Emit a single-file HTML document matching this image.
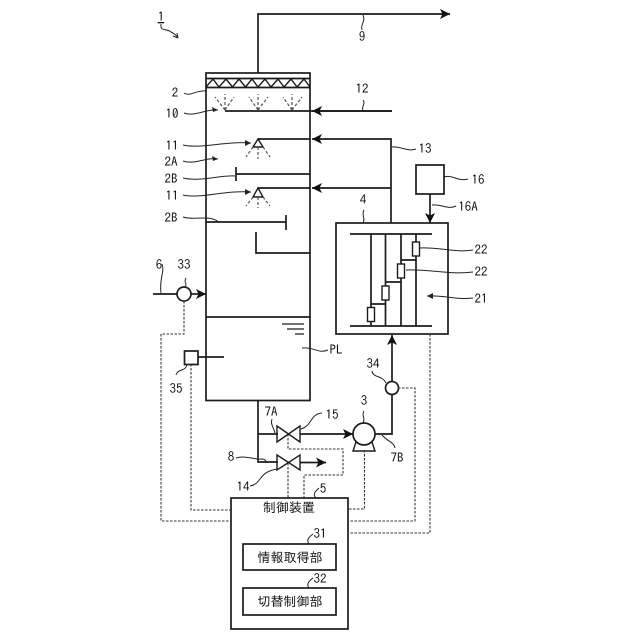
<!DOCTYPE html>
<html><head><meta charset="utf-8"><style>
html,body{margin:0;padding:0;background:#fff}
svg{display:block}
text{font-family:"IPAGothic","Liberation Sans","Noto Sans CJK JP",sans-serif;font-size:13px;fill:#111;text-anchor:middle}
.j{font-size:13px}
</style></head><body>
<svg width="640" height="640" viewBox="0 0 640 640" xmlns="http://www.w3.org/2000/svg">
<defs><marker id="a" markerWidth="11" markerHeight="10" refX="10" refY="5" orient="auto" markerUnits="userSpaceOnUse"><path d="M0 0L10 5L0 10L2.500 5Z" fill="#111"/></marker></defs>
<g fill="none" stroke="#1c1c1c" stroke-width="1.7">
<!-- tower -->
<rect x="206" y="73" width="104" height="327.500"/>
<path d="M206 78.500H310M206 87.500H310M206 317H310"/>
<path stroke-width="1.4" d="M206 87L213 79L219 87L226 79L232.500 87L239 79L245.500 87L252 79L258 87L265 79L271 87L278 79L284 87L291 79L297 87L304 79L310 87"/>
<!-- stack -->
<path d="M258 73V14H450" marker-end="url(#a)"/>
<!-- sprays -->
<path d="M392 111H225"/>
<path d="M392 111H312" marker-end="url(#a)"/>
<path d="M391 223V139H312" marker-end="url(#a)"/>
<path d="M391 188H312" marker-end="url(#a)"/>
<path d="M310 139H258M310 188H258"/>
<path d="M253 147L258 139L263 147ZM253 197L258 188L263 197Z" stroke-width="1.4"/>
<g stroke-dasharray="3 2" stroke-width="1.2" stroke="#555">
<path d="M225 110L215 97M225 110V94M225 110L234 97M258 110L249 97M258 110V94M258 110L268 97M292 110L283 97M292 110V94M292 110L302 97"/>
<path d="M253 147L246 157M258 147V159M263 147L270 157M253 197L246 206M258 197V208M263 197L270 206"/>
</g>
<!-- baffles -->
<path d="M310 174H236M236 167V181M206 222H286M286 215V230M256 232V253H310"/>
<!-- liquid level -->
<path stroke-width="1.3" d="M282 324H304M287 329H304M295 334H304"/>
<!-- inlet -->
<path d="M153 294H177"/>
<path d="M191 294H206" marker-end="url(#a)"/>
<circle cx="184" cy="294" r="7"/>
<!-- sensor 35 -->
<rect x="184.500" y="351" width="13.500" height="13.500"/>
<path d="M198 357H224"/>
<!-- absorber box -->
<rect x="336" y="223" width="112" height="111"/>
<path d="M350 234H432M350 326H432M371 234V326M385.500 234V326M401 234V326M416 234V326M371 304H385.500M385.500 282H401M401 260H416"/>
<g fill="#fff" stroke-width="1.4">
<rect x="367.500" y="307.500" width="7" height="14"/>
<rect x="382" y="286" width="7" height="14"/>
<rect x="397.500" y="264" width="7" height="14"/>
<rect x="412.500" y="242" width="7" height="14"/>
</g>
<rect x="416" y="165" width="28" height="29"/>
<path d="M430 194V223" marker-end="url(#a)"/>
<!-- pipes -->
<path d="M258 400V462H278M258 434H278"/>
<path d="M300 434H353" marker-end="url(#a)"/>
<path d="M300 462.500H326" marker-end="url(#a)"/>
<path d="M277 426L300 442V426L277 442Z" stroke-width="1.4"/>
<path d="M277 455L300 470V455L277 470Z" stroke-width="1.4"/>
<circle cx="364" cy="434" r="11"/>
<path d="M356 442L353 451H375L372 442" stroke-width="1.4"/>
<path d="M375 434H392V395"/>
<circle cx="392" cy="388" r="6.500"/>
<path d="M392 381V335" marker-end="url(#a)"/>
<!-- control -->
<rect x="231" y="498" width="117" height="131"/>
<rect x="243" y="544" width="93" height="26"/>
<rect x="243" y="588" width="93" height="27"/>
</g>
<!-- dashed signals -->
<g fill="none" stroke="#333" stroke-width="1.1" stroke-dasharray="2.500 1.500">
<path d="M184 301V334H161V521H231"/>
<path d="M191 364V510H231"/>
<path d="M288 434V449H343V475H304V498"/>
<path d="M288 463V498"/>
<path d="M364.500 450V509H349"/>
<path d="M398 388H415V521H349"/>
<path d="M430 334V533H349"/>
</g>
<!-- leaders -->
<g fill="none" stroke="#222" stroke-width="1">
<path d="M161 24C160 32 166 28 171 32C175 34 176 35 178 38"/>
<path d="M178 38L173 36M178 38L177 33"/>
<path d="M363 15C366 22 360 24 362 30"/>
<path d="M184 93C190 97 196 90 206 91"/>
<path d="M184 113C195 117 205 109 218 110"/>
<path d="M183 145C200 149 225 141 251 143"/>
<path d="M183 161C195 165 205 157 218 159"/>
<path d="M183 178C200 182 220 175 235 176"/>
<path d="M183 195C200 199 225 190 251 192"/>
<path d="M183 217C195 221 208 214 219 222"/>
<path d="M363 100C366 104 361 106 363 111"/>
<path d="M392 147C400 146 408 152 416 149"/>
<path d="M444 177C452 174 458 182 468 179"/>
<path d="M432 205C442 204 448 210 456 206"/>
<path d="M364 210C361 216 366 218 363 223"/>
<path d="M420 248C440 247 455 253 473 250"/>
<path d="M406 270C430 269 450 275 473 272"/>
<path d="M427 296C445 295 455 300 473 298"/>
<path d="M162 264C165 272 159 278 161 293"/>
<path d="M186 278C183 284 188 282 185 287"/>
<path d="M302 348C315 347 318 354 328 350"/>
<path d="M176 375C178 368 186 372 187 364"/>
<path d="M372 371C373 378 382 375 386 383"/>
<path d="M364 411C361 416 366 418 363 423"/>
<path d="M272 419C270 424 274 428 275 433"/>
<path d="M301 429C312 426 310 414 322 413"/>
<path d="M382 435C388 442 394 442 395 448"/>
<path d="M236 458C245 455 255 460 262 459C266 459 266 462 266 463"/>
<path d="M250 486C262 484 258 472 277 469"/>
<path d="M316 498C312 494 316 491 319 488"/>
<path d="M309 544C306 540 309 537 313 534"/>
<path d="M309 588C306 584 309 581 313 578"/>
</g>
<path d="M218 110L212 107L213 112ZM251 143L245 140L245 146ZM218 159L212 156L213 161ZM251 192L245 189L245 195ZM427 296L433 293L433 299Z" fill="#222"/>
<!-- labels -->
<text x="161" y="21" style="text-decoration:underline">1</text>
<text x="362" y="41">9</text>
<text x="175" y="97">2</text>
<text x="172" y="118">10</text>
<text x="172" y="150">11</text>
<text x="171" y="166">2A</text>
<text x="171" y="183">2B</text>
<text x="172" y="200">11</text>
<text x="171" y="222">2B</text>
<text x="362" y="93">12</text>
<text x="425" y="153">13</text>
<text x="478" y="184">16</text>
<text x="468" y="211">16A</text>
<text x="363" y="204">4</text>
<text x="481" y="254">22</text>
<text x="481" y="276">22</text>
<text x="481" y="303">21</text>
<text x="159" y="269">6</text>
<text x="184" y="269">33</text>
<text x="336" y="354">PL</text>
<text x="176" y="393">35</text>
<text x="373" y="368">34</text>
<text x="364" y="405">3</text>
<text x="271" y="416">7A</text>
<text x="332" y="419">15</text>
<text x="397" y="462">7B</text>
<text x="231" y="461">8</text>
<text x="243" y="491">14</text>
<text x="323" y="493">5</text>
<text x="320" y="538">31</text>
<text x="320" y="583">32</text>
<text class="j" x="289" y="512">制御装置</text>
<text class="j" x="290" y="562">情報取得部</text>
<text class="j" x="290" y="606">切替制御部</text>
</svg>
</body></html>
